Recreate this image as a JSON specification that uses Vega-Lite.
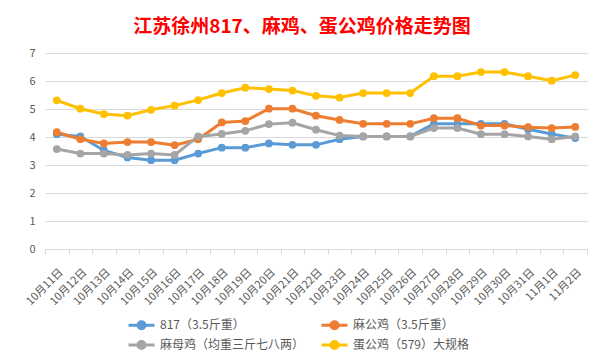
{
  "$schema": "https://vega.github.io/schema/vega-lite/v6.json",
  "autosize": "none",
  "width": 542,
  "height": 196,
  "padding": {"left": 45, "top": 53, "right": 17, "bottom": 115},
  "background": "white",
  "title": {
    "text": "江苏徐州817、麻鸡、蛋公鸡价格走势图",
    "color": "#FF0000",
    "font": "Noto Sans CJK SC",
    "fontSize": 19,
    "fontWeight": "bold",
    "anchor": "middle",
    "dx": -14,
    "offset": 10
  },
  "config": {
    "view": {"stroke": null},
    "font": "Noto Sans CJK SC"
  },
  "data": {
    "values": [
      {"d": "10月11日", "s": "817（3.5斤重）", "v": 4.10},
      {"d": "10月12日", "s": "817（3.5斤重）", "v": 4.02},
      {"d": "10月13日", "s": "817（3.5斤重）", "v": 3.52},
      {"d": "10月14日", "s": "817（3.5斤重）", "v": 3.27},
      {"d": "10月15日", "s": "817（3.5斤重）", "v": 3.17},
      {"d": "10月16日", "s": "817（3.5斤重）", "v": 3.17},
      {"d": "10月17日", "s": "817（3.5斤重）", "v": 3.41},
      {"d": "10月18日", "s": "817（3.5斤重）", "v": 3.62},
      {"d": "10月19日", "s": "817（3.5斤重）", "v": 3.62},
      {"d": "10月20日", "s": "817（3.5斤重）", "v": 3.77},
      {"d": "10月21日", "s": "817（3.5斤重）", "v": 3.72},
      {"d": "10月22日", "s": "817（3.5斤重）", "v": 3.72},
      {"d": "10月23日", "s": "817（3.5斤重）", "v": 3.92},
      {"d": "10月24日", "s": "817（3.5斤重）", "v": 4.02},
      {"d": "10月25日", "s": "817（3.5斤重）", "v": 4.02},
      {"d": "10月26日", "s": "817（3.5斤重）", "v": 4.02},
      {"d": "10月27日", "s": "817（3.5斤重）", "v": 4.47},
      {"d": "10月28日", "s": "817（3.5斤重）", "v": 4.47},
      {"d": "10月29日", "s": "817（3.5斤重）", "v": 4.47},
      {"d": "10月30日", "s": "817（3.5斤重）", "v": 4.47},
      {"d": "10月31日", "s": "817（3.5斤重）", "v": 4.28},
      {"d": "11月1日", "s": "817（3.5斤重）", "v": 4.11},
      {"d": "11月2日", "s": "817（3.5斤重）", "v": 3.96},

      {"d": "10月11日", "s": "麻公鸡（3.5斤重）", "v": 4.17},
      {"d": "10月12日", "s": "麻公鸡（3.5斤重）", "v": 3.92},
      {"d": "10月13日", "s": "麻公鸡（3.5斤重）", "v": 3.77},
      {"d": "10月14日", "s": "麻公鸡（3.5斤重）", "v": 3.82},
      {"d": "10月15日", "s": "麻公鸡（3.5斤重）", "v": 3.82},
      {"d": "10月16日", "s": "麻公鸡（3.5斤重）", "v": 3.71},
      {"d": "10月17日", "s": "麻公鸡（3.5斤重）", "v": 3.92},
      {"d": "10月18日", "s": "麻公鸡（3.5斤重）", "v": 4.52},
      {"d": "10月19日", "s": "麻公鸡（3.5斤重）", "v": 4.57},
      {"d": "10月20日", "s": "麻公鸡（3.5斤重）", "v": 5.01},
      {"d": "10月21日", "s": "麻公鸡（3.5斤重）", "v": 5.01},
      {"d": "10月22日", "s": "麻公鸡（3.5斤重）", "v": 4.76},
      {"d": "10月23日", "s": "麻公鸡（3.5斤重）", "v": 4.61},
      {"d": "10月24日", "s": "麻公鸡（3.5斤重）", "v": 4.47},
      {"d": "10月25日", "s": "麻公鸡（3.5斤重）", "v": 4.47},
      {"d": "10月26日", "s": "麻公鸡（3.5斤重）", "v": 4.47},
      {"d": "10月27日", "s": "麻公鸡（3.5斤重）", "v": 4.67},
      {"d": "10月28日", "s": "麻公鸡（3.5斤重）", "v": 4.67},
      {"d": "10月29日", "s": "麻公鸡（3.5斤重）", "v": 4.41},
      {"d": "10月30日", "s": "麻公鸡（3.5斤重）", "v": 4.41},
      {"d": "10月31日", "s": "麻公鸡（3.5斤重）", "v": 4.35},
      {"d": "11月1日", "s": "麻公鸡（3.5斤重）", "v": 4.32},
      {"d": "11月2日", "s": "麻公鸡（3.5斤重）", "v": 4.36},

      {"d": "10月11日", "s": "麻母鸡（均重三斤七八两）", "v": 3.57},
      {"d": "10月12日", "s": "麻母鸡（均重三斤七八两）", "v": 3.41},
      {"d": "10月13日", "s": "麻母鸡（均重三斤七八两）", "v": 3.41},
      {"d": "10月14日", "s": "麻母鸡（均重三斤七八两）", "v": 3.36},
      {"d": "10月15日", "s": "麻母鸡（均重三斤七八两）", "v": 3.41},
      {"d": "10月16日", "s": "麻母鸡（均重三斤七八两）", "v": 3.36},
      {"d": "10月17日", "s": "麻母鸡（均重三斤七八两）", "v": 4.02},
      {"d": "10月18日", "s": "麻母鸡（均重三斤七八两）", "v": 4.11},
      {"d": "10月19日", "s": "麻母鸡（均重三斤七八两）", "v": 4.22},
      {"d": "10月20日", "s": "麻母鸡（均重三斤七八两）", "v": 4.46},
      {"d": "10月21日", "s": "麻母鸡（均重三斤七八两）", "v": 4.51},
      {"d": "10月22日", "s": "麻母鸡（均重三斤七八两）", "v": 4.26},
      {"d": "10月23日", "s": "麻母鸡（均重三斤七八两）", "v": 4.05},
      {"d": "10月24日", "s": "麻母鸡（均重三斤七八两）", "v": 4.02},
      {"d": "10月25日", "s": "麻母鸡（均重三斤七八两）", "v": 4.02},
      {"d": "10月26日", "s": "麻母鸡（均重三斤七八两）", "v": 4.02},
      {"d": "10月27日", "s": "麻母鸡（均重三斤七八两）", "v": 4.32},
      {"d": "10月28日", "s": "麻母鸡（均重三斤七八两）", "v": 4.32},
      {"d": "10月29日", "s": "麻母鸡（均重三斤七八两）", "v": 4.10},
      {"d": "10月30日", "s": "麻母鸡（均重三斤七八两）", "v": 4.10},
      {"d": "10月31日", "s": "麻母鸡（均重三斤七八两）", "v": 4.02},
      {"d": "11月1日", "s": "麻母鸡（均重三斤七八两）", "v": 3.92},
      {"d": "11月2日", "s": "麻母鸡（均重三斤七八两）", "v": 4.02},

      {"d": "10月11日", "s": "蛋公鸡（579）大规格", "v": 5.31},
      {"d": "10月12日", "s": "蛋公鸡（579）大规格", "v": 5.01},
      {"d": "10月13日", "s": "蛋公鸡（579）大规格", "v": 4.82},
      {"d": "10月14日", "s": "蛋公鸡（579）大规格", "v": 4.76},
      {"d": "10月15日", "s": "蛋公鸡（579）大规格", "v": 4.97},
      {"d": "10月16日", "s": "蛋公鸡（579）大规格", "v": 5.12},
      {"d": "10月17日", "s": "蛋公鸡（579）大规格", "v": 5.32},
      {"d": "10月18日", "s": "蛋公鸡（579）大规格", "v": 5.57},
      {"d": "10月19日", "s": "蛋公鸡（579）大规格", "v": 5.76},
      {"d": "10月20日", "s": "蛋公鸡（579）大规格", "v": 5.71},
      {"d": "10月21日", "s": "蛋公鸡（579）大规格", "v": 5.66},
      {"d": "10月22日", "s": "蛋公鸡（579）大规格", "v": 5.47},
      {"d": "10月23日", "s": "蛋公鸡（579）大规格", "v": 5.41},
      {"d": "10月24日", "s": "蛋公鸡（579）大规格", "v": 5.57},
      {"d": "10月25日", "s": "蛋公鸡（579）大规格", "v": 5.57},
      {"d": "10月26日", "s": "蛋公鸡（579）大规格", "v": 5.57},
      {"d": "10月27日", "s": "蛋公鸡（579）大规格", "v": 6.17},
      {"d": "10月28日", "s": "蛋公鸡（579）大规格", "v": 6.17},
      {"d": "10月29日", "s": "蛋公鸡（579）大规格", "v": 6.32},
      {"d": "10月30日", "s": "蛋公鸡（579）大规格", "v": 6.32},
      {"d": "10月31日", "s": "蛋公鸡（579）大规格", "v": 6.17},
      {"d": "11月1日", "s": "蛋公鸡（579）大规格", "v": 6.01},
      {"d": "11月2日", "s": "蛋公鸡（579）大规格", "v": 6.21}
    ]
  },
  "mark": {
    "type": "line",
    "strokeWidth": 3,
    "point": {"filled": true, "size": 60, "opacity": 1}
  },
  "encoding": {
    "x": {
      "field": "d",
      "type": "ordinal",
      "sort": null,
      "bandPosition": 0.5,
      "scale": {"type": "band", "paddingInner": 0, "paddingOuter": 0},
      "axis": {
        "title": null,
        "labelAngle": -45,
        "labelFontSize": 11,
        "labelColor": "#595959",
        "tickBand": "extent",
        "tickColor": "#D9D9D9",
        "domainColor": "#D9D9D9",
        "tickSize": 5,
        "labelPadding": 12,
        "grid": false
      }
    },
    "y": {
      "field": "v",
      "type": "quantitative",
      "scale": {"domain": [0, 7], "nice": false},
      "axis": {
        "title": null,
        "values": [0, 1, 2, 3, 4, 5, 6, 7],
        "domain": false,
        "ticks": false,
        "labelFontSize": 11,
        "labelColor": "#595959",
        "labelPadding": 10,
        "gridColor": "#D9D9D9"
      }
    },
    "color": {
      "field": "s",
      "type": "nominal",
      "sort": null,
      "scale": {
        "domain": ["817（3.5斤重）", "麻公鸡（3.5斤重）", "麻母鸡（均重三斤七八两）", "蛋公鸡（579）大规格"],
        "range": ["#5B9BD5", "#ED7D31", "#A5A5A5", "#FFC000"]
      },
      "legend": {
        "title": null,
        "orient": "none",
        "legendX": 82,
        "legendY": 264,
        "direction": "horizontal",
        "columns": 2,
        "columnPadding": 10,
        "rowPadding": 0,
        "labelFontSize": 12,
        "labelColor": "#595959",
        "labelOffset": 17,
        "symbolType": "M-1,0H3M1.54,0A0.54,0.54,0,1,1,0.46,0A0.54,0.54,0,1,1,1.54,0",
        "symbolSize": 169,
        "symbolStrokeWidth": 3,
        "symbolOpacity": 1
      }
    }
  }
}
